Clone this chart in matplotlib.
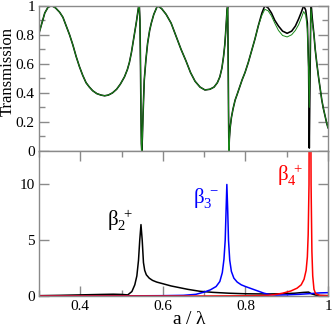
import matplotlib
matplotlib.use("Agg")
import matplotlib.pyplot as plt
from matplotlib.ticker import MultipleLocator, FixedLocator

plt.rcParams['font.family'] = ['Liberation Serif', 'DejaVu Serif']
plt.rcParams['mathtext.fontset'] = 'custom'
plt.rcParams['mathtext.rm'] = 'Liberation Serif'
plt.rcParams['mathtext.it'] = 'Liberation Serif'
plt.rcParams['mathtext.bf'] = 'Liberation Serif:bold'

# ---------------- data: transmission (upper panel) ----------------
x_T = [0.300, 0.307, 0.314, 0.322, 0.331, 0.340, 0.350, 0.358, 0.366, 0.374,
       0.382, 0.390, 0.398, 0.406, 0.414, 0.422, 0.430, 0.440, 0.450, 0.459,
       0.468, 0.478, 0.488, 0.497, 0.507, 0.514, 0.519, 0.524, 0.528, 0.532,
       0.536, 0.539, 0.541, 0.543, 0.5445, 0.546, 0.547, 0.548, 0.549, 0.5505,
       0.552, 0.555, 0.559, 0.563, 0.568, 0.572, 0.578, 0.587, 0.597, 0.608,
       0.620, 0.632, 0.644, 0.656, 0.667, 0.678, 0.690, 0.702, 0.714, 0.724,
       0.732, 0.738, 0.743, 0.747, 0.750, 0.752, 0.754, 0.7555, 0.757, 0.758,
       0.759, 0.760, 0.761, 0.763, 0.766, 0.770, 0.775, 0.780, 0.786, 0.792,
       0.799, 0.807, 0.815, 0.823, 0.831, 0.840, 0.847, 0.855, 0.863, 0.871,
       0.880, 0.890, 0.901, 0.912, 0.921, 0.929, 0.936, 0.941, 0.946, 0.950,
       0.953, 0.9547, 0.9565, 0.9586, 0.962, 0.966, 0.969, 0.973, 0.977, 0.981,
       0.985, 0.989, 0.993, 0.997, 1.000]
T_black = [0.81, 0.88, 0.95, 0.99, 1.00, 0.985, 0.955, 0.92, 0.86, 0.80,
           0.73, 0.65, 0.58, 0.52, 0.47, 0.44, 0.415, 0.395, 0.385, 0.38,
           0.385, 0.40, 0.425, 0.46, 0.51, 0.56, 0.61, 0.68, 0.75, 0.82,
           0.89, 0.95, 0.99, 1.00, 0.90, 0.55, 0.25, 0.05, 0.00, 0.10,
           0.25, 0.49, 0.63, 0.74, 0.83, 0.88, 0.94, 1.00, 0.98, 0.94,
           0.88, 0.79, 0.70, 0.62, 0.54, 0.48, 0.44, 0.42, 0.425, 0.44,
           0.47, 0.51, 0.57, 0.65, 0.73, 0.81, 0.90, 0.97, 1.00, 0.70,
           0.30, 0.00, 0.08, 0.16, 0.23, 0.29, 0.35, 0.39, 0.44, 0.49,
           0.54, 0.61, 0.69, 0.77, 0.86, 0.95, 1.00, 0.985, 0.95, 0.90,
           0.86, 0.825, 0.81, 0.825, 0.86, 0.91, 0.96, 1.00, 0.97, 0.88,
           0.58, 0.02, 0.50, 1.03, 0.91, 0.80, 0.70, 0.60, 0.51, 0.43,
           0.35, 0.29, 0.24, 0.19, 0.16]
T_green = [0.81, 0.88, 0.95, 0.99, 1.00, 0.985, 0.955, 0.92, 0.86, 0.80,
           0.73, 0.65, 0.58, 0.52, 0.47, 0.44, 0.415, 0.395, 0.385, 0.38,
           0.385, 0.40, 0.425, 0.46, 0.51, 0.56, 0.61, 0.68, 0.75, 0.82,
           0.89, 0.95, 0.99, 1.00, 0.90, 0.55, 0.25, 0.05, 0.00, 0.10,
           0.25, 0.49, 0.63, 0.74, 0.83, 0.88, 0.94, 1.00, 0.98, 0.94,
           0.88, 0.79, 0.70, 0.62, 0.54, 0.48, 0.44, 0.42, 0.425, 0.44,
           0.47, 0.51, 0.57, 0.65, 0.73, 0.81, 0.90, 0.97, 1.00, 0.70,
           0.30, 0.00, 0.08, 0.16, 0.23, 0.29, 0.35, 0.39, 0.44, 0.49,
           0.54, 0.61, 0.69, 0.77, 0.86, 0.935, 0.975, 0.965, 0.93, 0.88,
           0.83, 0.795, 0.785, 0.80, 0.83, 0.87, 0.92, 0.96, 0.935, 0.84,
           0.55, 0.30, 0.65, 0.98, 0.88, 0.80, 0.70, 0.60, 0.51, 0.43,
           0.35, 0.29, 0.24, 0.19, 0.16]

# ---------------- data: mode amplitudes (lower panel) ----------------
x_b2 = [0.30, 0.35, 0.40, 0.45, 0.48, 0.50, 0.515, 0.525, 0.532, 0.537,
        0.541, 0.544, 0.547, 0.550, 0.553, 0.556, 0.560, 0.567, 0.575, 0.585,
        0.600, 0.620, 0.640, 0.660, 0.690, 0.720, 0.760, 0.800, 0.850, 0.890,
        0.920, 0.940, 0.953, 0.960, 0.970, 0.980, 1.00]
y_b2 = [0.03, 0.06, 0.10, 0.14, 0.16, 0.14, 0.10, 0.4, 1.0, 1.8,
        3.2, 5.0, 6.4, 5.0, 3.0, 2.3, 1.9, 1.6, 1.4, 1.25,
        1.1, 0.9, 0.75, 0.6, 0.42, 0.33, 0.25, 0.2, 0.18, 0.2,
        0.25, 0.32, 0.35, 0.2, 0.08, 0.04, 0.03]

x_b3 = [0.30, 0.40, 0.50, 0.60, 0.65, 0.68, 0.70, 0.715, 0.729, 0.738,
        0.744, 0.748, 0.751, 0.753, 0.755, 0.757, 0.759, 0.762, 0.766, 0.772,
        0.780, 0.790, 0.800, 0.815, 0.830, 0.845, 0.860, 0.875, 0.900, 0.930,
        0.960, 0.980, 1.00]
y_b3 = [0.0, 0.0, 0.01, 0.03, 0.06, 0.15, 0.35, 0.55, 0.85, 1.3,
        2.1, 3.3, 5.0, 7.5, 10.0, 7.8, 5.0, 3.2, 2.2, 1.6,
        1.25, 1.0, 0.85, 0.65, 0.45, 0.25, 0.12, 0.08, 0.1, 0.15,
        0.22, 0.28, 0.3]

x_b4 = [0.30, 0.50, 0.70, 0.80, 0.85, 0.87, 0.89, 0.91, 0.925, 0.935,
        0.942, 0.947, 0.950, 0.952, 0.954, 0.9555, 0.957, 0.959, 0.961, 0.963,
        0.966, 0.970, 0.980, 1.00]
y_b4 = [0.0, 0.0, 0.0, 0.02, 0.05, 0.12, 0.25, 0.45, 0.7, 1.0,
        1.5, 2.3, 3.5, 5.5, 10.0, 30.0, 30.0, 10.0, 4.0, 1.8,
        0.6, 0.2, 0.06, 0.03]

upper_yticks = [0, 0.2, 0.4, 0.6, 0.8, 1.0]
upper_yticklabels = ['0', '0.2', '0.4', '0.6', '0.8', '1']
lower_yticks = [0, 5, 10]
lower_yticklabels = ['0', '5', '10']
lower_xticks = [0.4, 0.6, 0.8, 1.0]
lower_xticklabels = ['0.4', '0.6', '0.8', '1']

labels = [r'$\beta_2^{\,+}$', r'$\beta_3^{\,-}$', r'$\beta_4^{\,+}$']
label_pos = [(0.464, 6.3), (0.673, 8.3), (0.876, 10.3)]
label_col = ['black', 'blue', 'red']

# ---------------- figure ----------------
W = H = 332
fig = plt.figure(figsize=(W / 100, H / 100), dpi=100)
L, R = 39 / W, 328 / W
ax1 = fig.add_axes([L, 1 - 151 / H, R - L, (151 - 5.7) / H])
ax2 = fig.add_axes([L, 1 - 296 / H, R - L, (296 - 151) / H])

spine_c = '#8a8a8a'
for ax in (ax1, ax2):
    for s in ax.spines.values():
        s.set_color(spine_c)
        s.set_linewidth(1.0)
    ax.set_xlim(0.3, 1.0)
    ax.tick_params(which='both', direction='in', color=spine_c, width=1.0,
                   labelsize=11, pad=3)
    ax.tick_params(which='major', length=7)
    ax.tick_params(which='minor', length=4)

ax1.plot(x_T, T_black, color='black', lw=1.15, solid_joinstyle='round')
ax1.plot(x_T, T_green, color='#1a8a1a', lw=0.7)
ax1.set_ylim(0, 1)
ax1.set_yticks(upper_yticks)
ax1.set_yticklabels(upper_yticklabels)
ax1.yaxis.set_minor_locator(MultipleLocator(0.1))
ax1.tick_params(axis='y', which='both', right=True)
ax1.tick_params(axis='x', which='both', bottom=False, top=False,
                labelbottom=False)
fig.text(7.5 / W, 1 - 72 / H, 'Transmission', fontsize=12, rotation=90,
         ha='center', va='center')

ax2.plot(x_b2, y_b2, color='black', lw=1.1)
ax2.plot(x_b3, y_b3, color='blue', lw=1.1)
ax2.plot(x_b4, y_b4, color='red', lw=1.1)
ax2.set_ylim(0, 13)
ax2.set_yticks(lower_yticks)
ax2.set_yticklabels(lower_yticklabels)
ax2.set_xticks(lower_xticks)
ax2.set_xticklabels(lower_xticklabels)
ax2.xaxis.set_minor_locator(FixedLocator([0.3, 0.5, 0.7, 0.9]))
ax2.tick_params(axis='y', which='both', right=True)
ax2.tick_params(axis='x', which='both', top=True)
ax2.tick_params(axis='x', which='minor', top=True, length=4)
for lab, (lx, ly), c in zip(labels, label_pos, label_col):
    ax2.text(lx, ly, lab, color=c, fontsize=15, ha='left', va='baseline')

fig.text(190 / W, 1 - 320 / H, r'a / $\lambda$', fontsize=14,
         ha='center', va='center')

fig.savefig('out.png', dpi=100)
